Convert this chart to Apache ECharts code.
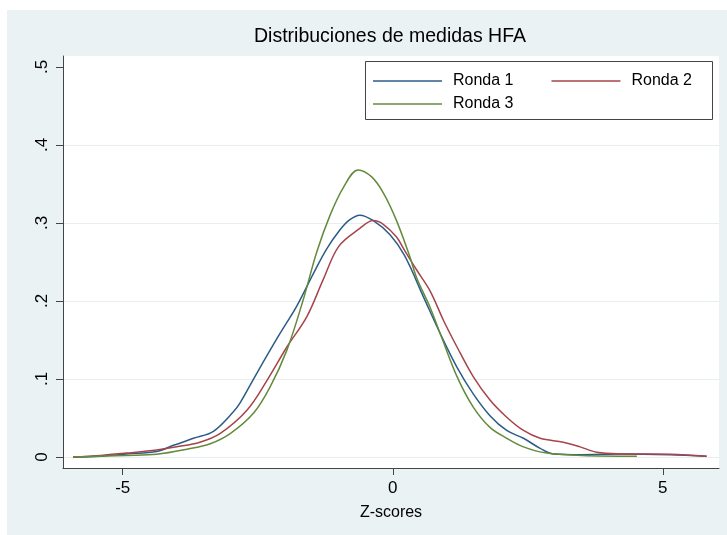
<!DOCTYPE html>
<html>
<head>
<meta charset="utf-8">
<title>Distribuciones de medidas HFA</title>
<script src="https://cdn.jsdelivr.net/npm/echarts@6/dist/echarts.min.js"></script>
<style>
    html, body { margin: 0; padding: 0; background: #fff; }
    #main { width: 727px; height: 535px; }
</style>
</head>
<body>
<div id="main"></div>
<script>
    // densidades: [z-score, densidad]
    const ronda1 = [
        [-5.92, 0.000], [-5.4, 0.001], [-4.93, 0.004], [-4.37, 0.007], [-4.06, 0.015],
        [-3.69, 0.024], [-3.32, 0.033], [-2.95, 0.058], [-2.83, 0.069], [-2.52, 0.107],
        [-2.09, 0.158], [-1.78, 0.193], [-1.47, 0.235], [-1.22, 0.267], [-0.98, 0.291],
        [-0.80, 0.304], [-0.61, 0.310], [-0.36, 0.303], [-0.05, 0.285], [0.22, 0.258],
        [0.57, 0.205], [0.88, 0.158], [1.19, 0.115], [1.49, 0.081], [1.80, 0.053],
        [2.11, 0.034], [2.42, 0.024], [2.73, 0.011], [2.97, 0.004], [3.5, 0.003],
        [4.2, 0.004], [5.14, 0.003], [5.81, 0.001]
    ];
    const ronda2 = [
        [-5.92, 0.000], [-5.4, 0.002], [-4.93, 0.005], [-4.37, 0.009], [-4.0, 0.013],
        [-3.57, 0.019], [-3.2, 0.030], [-2.70, 0.060], [-2.33, 0.098], [-1.96, 0.141],
        [-1.59, 0.180], [-1.29, 0.227], [-1.0, 0.270], [-0.61, 0.293], [-0.36, 0.303],
        [-0.17, 0.298], [0.07, 0.282], [0.2, 0.267], [0.44, 0.240], [0.69, 0.213],
        [0.94, 0.175], [1.19, 0.141], [1.49, 0.103], [1.80, 0.073], [2.11, 0.051],
        [2.42, 0.034], [2.73, 0.024], [3.16, 0.019], [3.47, 0.013], [3.78, 0.006],
        [4.21, 0.004], [5.14, 0.0035], [5.81, 0.001]
    ];
    const ronda3 = [
        [-5.92, 0.000], [-4.93, 0.002], [-4.37, 0.0035], [-3.81, 0.010], [-3.38, 0.017],
        [-3.01, 0.030], [-2.58, 0.056], [-2.27, 0.090], [-1.96, 0.137], [-1.66, 0.201],
        [-1.41, 0.262], [-1.16, 0.310], [-0.91, 0.346], [-0.64, 0.368], [-0.39, 0.359],
        [-0.17, 0.338], [0.07, 0.303], [0.32, 0.256], [0.44, 0.230], [0.69, 0.192],
        [0.88, 0.158], [1.19, 0.103], [1.49, 0.064], [1.80, 0.038], [2.11, 0.024],
        [2.42, 0.013], [2.85, 0.005], [3.5, 0.002], [4.52, 0.001]
    ];
    const seriesNames = ['Ronda 1', 'Ronda 2', 'Ronda 3'];
    const seriesColors = ['#2c5c88', '#a6444b', '#648a3c'];
    const xTicks = [-5, 0, 5];
    const yTicks = [0, 0.1, 0.2, 0.3, 0.4, 0.5];

    const font = '"Liberation Sans", Arial, Helvetica, sans-serif';
    const allData = [ronda1, ronda2, ronda3];

    let myChart = echarts.init(document.getElementById('main'));
    myChart.setOption({
        animation: false,
        backgroundColor: '#fff',
        textStyle: { fontFamily: font },
        graphic: [
            {   // fondo gris-azulado del grafico
                type: 'rect', z: -10, silent: true,
                shape: { x: 7, y: 10, width: 720, height: 525 },
                style: { fill: '#eaf2f3' }
            },
            {   // caja de la leyenda
                type: 'rect', z: 5, silent: true,
                shape: { x: 365.5, y: 61.5, width: 347, height: 58 },
                style: { fill: '#fff', stroke: '#444', lineWidth: 1 }
            }
        ],
        title: {
            text: 'Distribuciones de medidas HFA',
            left: 254,
            top: 27,
            padding: 0,
            textStyle: { fontFamily: font, fontSize: 19.5, fontWeight: 'normal', color: '#000' }
        },
        legend: [
            {
                data: seriesNames.slice(0, 2),
                left: 373, top: 72, padding: 0,
                icon: 'rect',
                itemWidth: 69, itemHeight: 1.6, itemGap: 38,
                z: 10,
                textStyle: { fontFamily: font, fontSize: 16, color: '#000', padding: [0, 0, 0, 6], lineHeight: 18 }
            },
            {
                data: seriesNames.slice(2),
                left: 373, top: 95, padding: 0,
                icon: 'rect',
                itemWidth: 69, itemHeight: 1.6,
                z: 10,
                textStyle: { fontFamily: font, fontSize: 16, color: '#000', padding: [0, 0, 0, 6], lineHeight: 18 }
            }
        ],
        grid: {
            left: 63, right: 8, top: 56, bottom: 67,
            show: true, backgroundColor: '#fff', borderWidth: 0,
            outerBoundsMode: 'none'
        },
        xAxis: {
            type: 'value',
            min: -6.105, max: 6.04,
            name: 'Z-scores',
            nameLocation: 'middle',
            nameGap: 37,
            nameTextStyle: { fontFamily: font, fontSize: 16, color: '#000' },
            axisLine: { show: true, onZero: false, lineStyle: { color: '#444', width: 1 } },
            axisTick: { show: true, length: 7, customValues: xTicks, lineStyle: { color: '#444' } },
            axisLabel: { customValues: xTicks, margin: 12, fontSize: 17, color: '#000', fontFamily: font },
            splitLine: { show: false }
        },
        yAxis: {
            type: 'value',
            min: -0.0141, max: 0.514,
            axisLine: { show: true, onZero: false, lineStyle: { color: '#444', width: 1 } },
            axisTick: { show: true, length: 7, customValues: yTicks, lineStyle: { color: '#444' } },
            axisLabel: {
                customValues: yTicks, rotate: 90, margin: 12, fontSize: 17, color: '#000', fontFamily: font,
                formatter: function (v) { return v === 0 ? '0' : String(v).replace(/^0/, ''); }
            },
            splitLine: {
                show: true,
                lineStyle: { color: ['#e6eef0', '#e6eef0', '#e6eef0', '#e6eef0', '#e6eef0', 'rgba(0,0,0,0)'], width: 1.2 }
            }
        },
        series: allData.map(function (d, i) {
            return {
                name: seriesNames[i],
                type: 'line',
                data: d,
                symbol: 'none',
                smooth: 0.35,
                color: seriesColors[i],
                lineStyle: { color: seriesColors[i], width: 1.5 }
            };
        })
    });
    window.onresize = myChart.resize;
</script>
</body>
</html>
